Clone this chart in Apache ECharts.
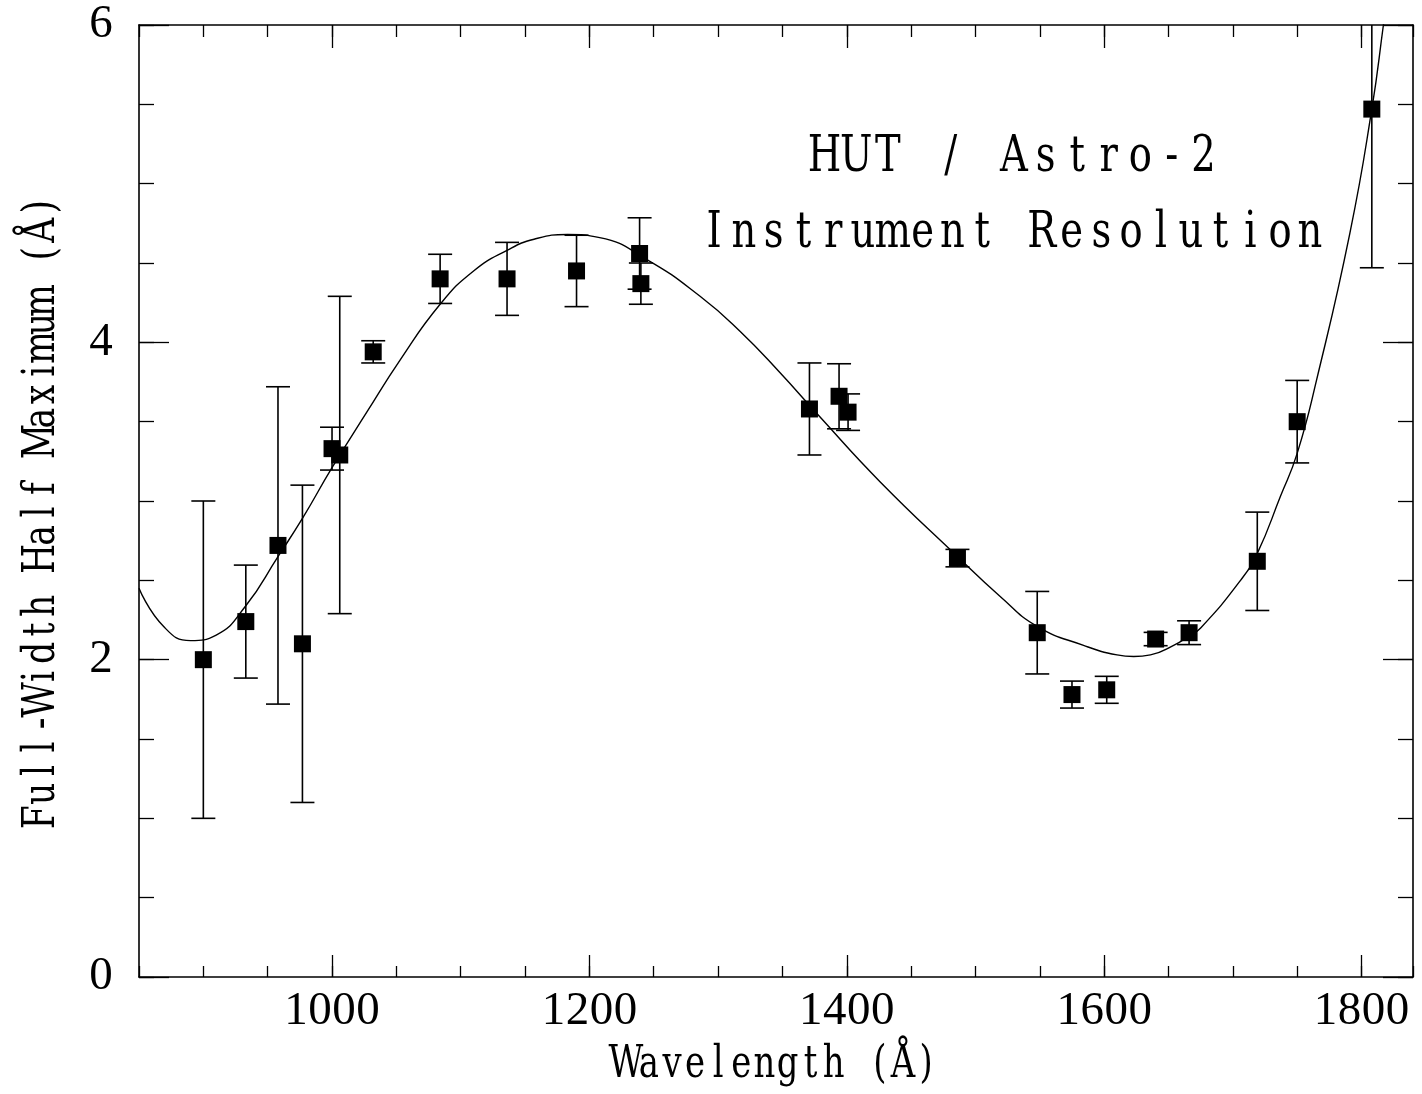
<!DOCTYPE html>
<html>
<head>
<meta charset="utf-8">
<script src="https://cdn.jsdelivr.net/npm/echarts@6/dist/echarts.min.js"></script>
<style>
html,body{margin:0;padding:0;background:#fff;}
#chart{width:1422px;height:1094px;}
</style>
</head>
<body>
<div id="chart"></div>
<script>
// ---- data ----
const wavelength = [900, 933, 958, 977, 1000, 1006, 1032, 1084, 1136, 1190, 1239, 1240, 1371, 1394, 1401, 1486, 1548, 1575, 1602, 1640, 1666, 1719, 1750, 1808];
const fwhm       = [2.00, 2.24, 2.72, 2.10, 3.33, 3.29, 3.94, 4.40, 4.40, 4.45, 4.56, 4.37, 3.58, 3.66, 3.56, 2.64, 2.17, 1.78, 1.81, 2.13, 2.17, 2.62, 3.50, 5.47];
const fwhmErr    = [1.00, 0.356, 1.00, 1.00, 0.135, 1.00, 0.07, 0.155, 0.23, 0.225, 0.225, 0.13, 0.29, 0.205, 0.115, 0.055, 0.26, 0.085, 0.085, 0.042, 0.075, 0.31, 0.26, 1.00];

const fitX = [850, 869, 890, 910, 933, 958, 977, 1000, 1027, 1053, 1084, 1110, 1136, 1157, 1183, 1208, 1245, 1286, 1317, 1348, 1378, 1426, 1486, 1519, 1548, 1584, 1610, 1623, 1636, 1654, 1666, 1675, 1706, 1719, 1737, 1750, 1765, 1791, 1808, 1817, 1821];
const fitY = [2.45, 2.21, 2.12, 2.155, 2.34, 2.65, 2.89, 3.21, 3.56, 3.89, 4.24, 4.45, 4.58, 4.65, 4.68, 4.66, 4.52, 4.29, 4.07, 3.81, 3.54, 3.12, 2.65, 2.40, 2.21, 2.09, 2.03, 2.02, 2.03, 2.09, 2.15, 2.20, 2.50, 2.67, 3.03, 3.30, 3.76, 4.69, 5.47, 6.00, 6.25];

const xMajorTicks = [1000, 1200, 1400, 1600, 1800];
const yMajorTicks = [0, 2, 4, 6];

const X_MIN = 850, X_MAX = 1840, Y_MIN = 0, Y_MAX = 6;
const titleLines = ['HUT / Astro-2', 'Instrument Resolution'];
const xTitle = 'Wavelength (Å)';
const yTitle = 'Full-Width Half Maximum (Å)';

// ---- build ----
const FONT = 'DejaVu Serif';
const DIGIT_FONT = 'Liberation Serif';
const INK = '#000';
const gridRect = {left: 139, top: 25, width: 1274, height: 952};

const pointData = wavelength.map((w, i) => [w, fwhm[i]]);
const errData = wavelength.map((w, i) => [w, fwhm[i] - fwhmErr[i], fwhm[i] + fwhmErr[i]]);
const fitData = fitX.map((x, i) => [x, fitY[i]]);

// fixed-pitch lettering: every character sits in an equal-width cell
function spaced(str, tag) {
  return Array.from(str).map(c => '{' + tag + '|' + c + '}').join('');
}

function minorAxis(pos, len, gridIndex, isX) {
  return {
    type: 'value', gridIndex: gridIndex, position: pos,
    min: isX ? X_MIN : Y_MIN, max: isX ? X_MAX : Y_MAX, interval: isX ? 50 : 0.5,
    axisLine: {show: true, onZero: false, lineStyle: {color: INK, width: 1.6}},
    axisTick: {show: true, inside: true, length: len, lineStyle: {color: INK, width: 1.3}},
    axisLabel: {show: false}, splitLine: {show: false}
  };
}
function majorAxis(pos, len, gridIndex, isX, labels) {
  const ticks = isX ? xMajorTicks : yMajorTicks;
  return {
    type: 'value', gridIndex: gridIndex, position: pos,
    min: isX ? X_MIN : Y_MIN, max: isX ? X_MAX : Y_MAX,
    axisLine: {show: false, onZero: false},
    axisTick: {show: true, inside: true, length: len, customValues: ticks, lineStyle: {color: INK, width: 1.3}},
    axisLabel: labels ? {
      show: true, customValues: ticks, margin: isX ? 11 : 26,
      formatter: v => spaced(String(v), 'd'),
      rich: {d: {width: 24, align: 'center', color: INK, fontFamily: DIGIT_FONT, fontSize: 47}}
    } : {show: false},
    splitLine: {show: false}
  };
}

function label(x, y, str, fontSize, cell, sx, sy, rot) {
  const g = {type: 'text', x: x, y: y, scaleX: sx, scaleY: sy,
    style: {text: spaced(str, 'c'), align: 'center', verticalAlign: 'middle',
            rich: {c: {width: cell, align: 'center', fill: INK, fontFamily: FONT, fontSize: fontSize}}}};
  if (rot) g.rotation = rot;
  return g;
}

const chart = echarts.init(document.getElementById('chart'), null, {renderer: 'canvas'});
const option = {
  backgroundColor: '#fff',
  animation: false,
  grid: [Object.assign({}, gridRect), Object.assign({}, gridRect)],
  xAxis: [
    minorAxis('bottom', 11, 0, true),
    minorAxis('top', 12, 0, true),
    majorAxis('bottom', 22, 1, true, true),
    majorAxis('top', 23, 1, true, false)
  ],
  yAxis: [
    minorAxis('left', 15, 0, false),
    minorAxis('right', 15, 0, false),
    majorAxis('left', 30, 1, false, true),
    majorAxis('right', 30, 1, false, false)
  ],
  series: [
    {
      type: 'line', xAxisIndex: 0, yAxisIndex: 0, data: fitData,
      smooth: 0.5, showSymbol: false, clip: true,
      lineStyle: {color: INK, width: 1.4}, z: 3
    },
    {
      type: 'custom', xAxisIndex: 0, yAxisIndex: 0, data: errData, clip: true, z: 4,
      renderItem: function (params, api) {
        const x = api.value(0), lo = api.value(1), hi = api.value(2);
        const top = Math.min(hi, Y_MAX);
        const pLo = api.coord([x, lo]);
        const pHi = api.coord([x, top]);
        const cap = 12;
        const st = {stroke: INK, lineWidth: 1.6};
        const children = [
          {type: 'line', shape: {x1: pLo[0], y1: pLo[1], x2: pHi[0], y2: pHi[1]}, style: st},
          {type: 'line', shape: {x1: pLo[0] - cap, y1: pLo[1], x2: pLo[0] + cap, y2: pLo[1]}, style: st}
        ];
        if (hi <= Y_MAX) {
          children.push({type: 'line', shape: {x1: pHi[0] - cap, y1: pHi[1], x2: pHi[0] + cap, y2: pHi[1]}, style: st});
        }
        return {type: 'group', children: children};
      }
    },
    {
      type: 'scatter', xAxisIndex: 0, yAxisIndex: 0, data: pointData,
      symbol: 'rect', symbolSize: 17, itemStyle: {color: INK, opacity: 1}, z: 5
    }
  ],
  graphic: [
    label(1014, 158, titleLines[0], 50, 41, 0.77, 1.0),
    label(1012, 234, titleLines[1], 50, 38.7, 0.77, 1.0),
    label(776, 1066, xTitle, 44, 30, 0.77, 1.0),
    label(42, 512, yTitle, 45, 30.5, 0.77, 1.0, Math.PI / 2)
  ]
};
chart.setOption(option);
</script>
</body>
</html>
